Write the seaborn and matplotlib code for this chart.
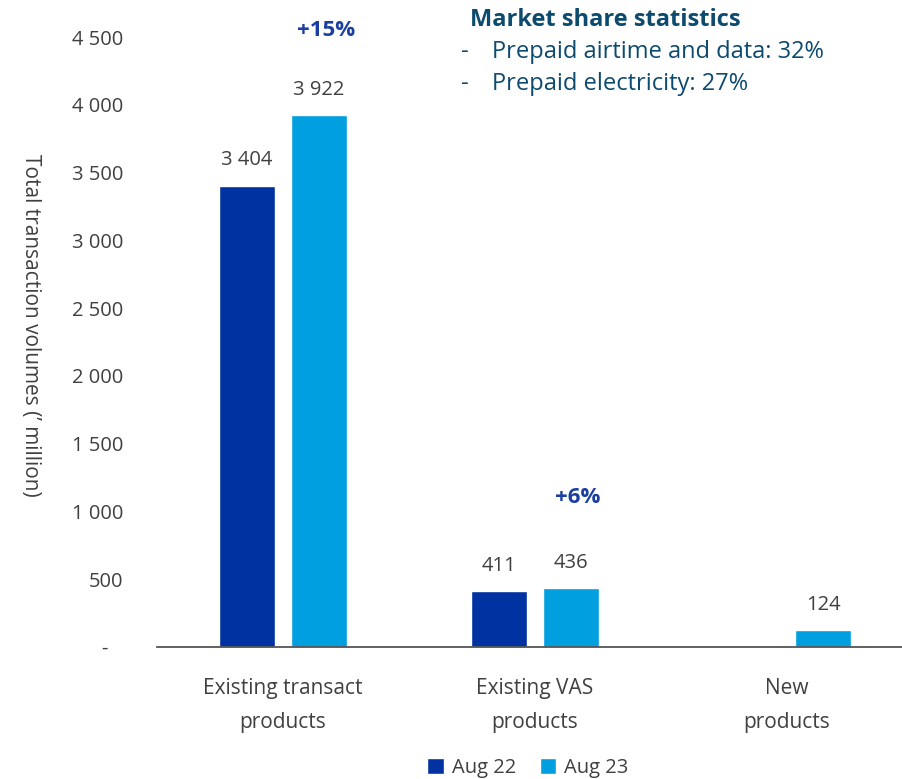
import numpy as np
import pandas as pd
import matplotlib
matplotlib.use("Agg")
import matplotlib.pyplot as plt
import seaborn as sns

categories = ["Existing transact\nproducts", "Existing VAS\nproducts", "New\nproducts"]
periods = ["Aug 22", "Aug 23"]
aug22 = [3404, 411, np.nan]
aug23 = [3922, 436, 124]
growth_labels = ["+15%", "+6%"]
growth_heights = [4545, 1105]
y_ticks = [0, 500, 1000, 1500, 2000, 2500, 3000, 3500, 4000, 4500]
y_tick_labels = ["-   ", "500", "1 000", "1 500", "2 000", "2 500", "3 000", "3 500", "4 000", "4 500"]
stats_title = "Market share statistics"
stats_items = ["Prepaid airtime and data: 32%", "Prepaid electricity: 27%"]

sns.set_theme(style="white")
plt.rcParams["font.family"] = ["Open Sans", "DejaVu Sans"]

df = pd.DataFrame({
    "category": categories * 2,
    "period": [periods[0]] * 3 + [periods[1]] * 3,
    "value": aug22 + aug23,
})

palette = {"Aug 22": "#0033A1", "Aug 23": "#009FDF"}
text_grey = "#404040"

fig = plt.figure(figsize=(9.03, 7.79), dpi=100)
ax = fig.add_axes([157 / 903, 132 / 779, 756 / 903, 610 / 779])

sns.barplot(data=df, x="category", y="value", hue="period", palette=palette,
            width=0.572, gap=0.22, ax=ax, saturation=1, legend=True)

ax.set_xlim(-0.5, 2.5)
ax.set_ylim(0, 4500)
ax.set_yticks(y_ticks)
ax.set_yticklabels(y_tick_labels, fontsize=14.5, color=text_grey)
ax.tick_params(axis="y", length=0, pad=24)
ax.tick_params(axis="x", length=0, pad=22, labelsize=15, labelcolor=text_grey)
for lbl in ax.get_xticklabels():
    lbl.set_linespacing(1.85)
ax.set_xlabel("")
ax.set_ylabel("Total transaction volumes (’ million)", fontsize=15, color=text_grey,
              rotation=-90)
ax.yaxis.set_label_coords(-0.181, 0.527)

for side in ["top", "right", "left"]:
    ax.spines[side].set_visible(False)
ax.spines["bottom"].set_color("#555555")
ax.spines["bottom"].set_linewidth(1.3)

# value labels above the bars
for container in ax.containers:
    labels = []
    for v in container.datavalues:
        labels.append("" if np.isnan(v) or v == 0 else f"{int(v):,}".replace(",", " "))
    ax.bar_label(container, labels=labels, padding=11, fontsize=14.5, color=text_grey)

# growth annotations
for i, (g, h) in enumerate(zip(growth_labels, growth_heights)):
    ax.text(i + 0.17, h, g, ha="center", va="center", fontsize=16,
            fontweight="bold", color="#1A3FA0", clip_on=False)

# market share box
fig.text(470 / 903, 1 - 20 / 779, stats_title, ha="left", va="center", fontsize=17,
         fontweight="bold", color="#0C4A6E")
for k, item in enumerate(stats_items):
    y = 1 - (52 + 32 * k) / 779
    fig.text(461 / 903, y, "-", ha="left", va="center", fontsize=17, color="#0C4A6E")
    fig.text(492 / 903, y, item, ha="left", va="center", fontsize=17, color="#0C4A6E")

leg = ax.legend(loc="center", bbox_to_anchor=(528 / 903, 1 - 768 / 779),
                bbox_transform=fig.transFigure, ncol=2, frameon=False,
                fontsize=14.5, handlelength=0.8, handleheight=0.8,
                handletextpad=0.4, columnspacing=1.2)
for t in leg.get_texts():
    t.set_color(text_grey)

fig.savefig("out.png", dpi=100)
